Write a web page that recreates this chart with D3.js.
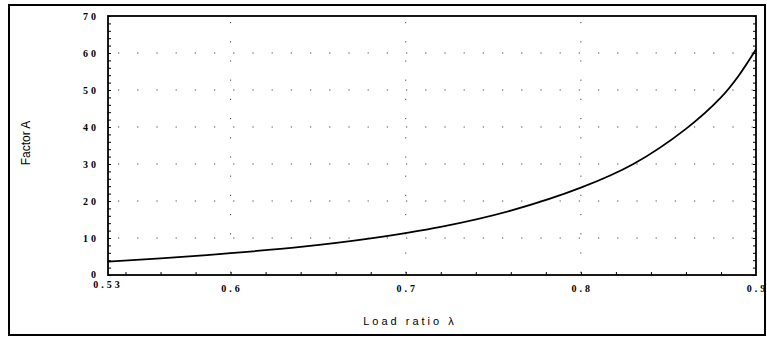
<!DOCTYPE html>
<html><head><meta charset="utf-8">
<script src="https://cdn.jsdelivr.net/npm/d3@7"></script>
<style>body{margin:0;background:#fff}svg{display:block}</style>
</head><body>
<svg id="c" width="767" height="339"></svg>
<script>
const lambda = [0.53, 0.56, 0.60, 0.64, 0.68, 0.72, 0.76, 0.80, 0.83, 0.86, 0.88, 0.89, 0.90];
const factorA = [3.6, 4.5, 5.9, 7.6, 9.9, 13.0, 17.4, 23.6, 30.0, 39.5, 48.0, 53.8, 61.0];
const xTicks = [0.53, 0.6, 0.7, 0.8, 0.9];
const xTickLabels = ["0.53", "0.6", "0.7", "0.8", "0.9"];
const yTicks = [0, 10, 20, 30, 40, 50, 60, 70];
const xGrid = [0.6, 0.7, 0.8];
const yGrid = [10, 20, 30, 40, 50, 60];
const yLabel = "Factor A";
const xLabel = "Load ratio λ";

const svg = d3.select("#c");
const L = 108, R = 756, T = 16, B = 275;
const x = d3.scaleLinear().domain([0.53, 0.9]).range([L, R]);
const y = d3.scaleLinear().domain([0, 70]).range([B, T]);

// outer frame
svg.append("rect").attr("x", 9).attr("y", 5).attr("width", 756).attr("height", 330)
  .attr("fill", "none").attr("stroke", "#000").attr("stroke-width", 2);

// dotted grid
const g = svg.append("g").attr("stroke", "#444").attr("stroke-width", 1).attr("stroke-dasharray", "1.2 18");
g.selectAll(".hg").data(yGrid).join("line")
  .attr("x1", L + 10).attr("x2", R).attr("y1", d => y(d)).attr("y2", d => y(d));
g.selectAll(".vg").data(xGrid).join("line")
  .attr("x1", d => x(d)).attr("x2", d => x(d)).attr("y1", T + 6).attr("y2", B);

// minor ticks (inward)
const yMinor = d3.range(0, 71, 2);
const xMinor = d3.range(0.54, 0.9, 0.02);
const axL = d3.axisLeft(y).tickValues(yMinor).tickSize(-3).tickFormat("");
const axR = d3.axisRight(y).tickValues(yMinor).tickSize(-3).tickFormat("");
const axB = d3.axisBottom(x).tickValues(xMinor).tickSize(-3).tickFormat("");
svg.append("g").attr("transform", `translate(${L},0)`).call(axL).call(s => s.select(".domain").remove());
svg.append("g").attr("transform", `translate(${R},0)`).call(axR).call(s => s.select(".domain").remove());
svg.append("g").attr("transform", `translate(0,${B})`).call(axB).call(s => s.select(".domain").remove());

// plot frame
svg.append("rect").attr("x", L).attr("y", T).attr("width", R - L).attr("height", B - T)
  .attr("fill", "none").attr("stroke", "#000").attr("stroke-width", 1.8);

// y tick labels
svg.append("g").selectAll("text").data(yTicks).join("text")
  .attr("x", L - 9).attr("y", d => d === 0 ? y(d) - 1 : y(d)).attr("dy", "0.35em")
  .attr("text-anchor", "end")
  .attr("font-family", "Liberation Serif").attr("font-weight", "bold").attr("font-size", 10)
  .attr("letter-spacing", 3)
  .text(d => d);

// x tick labels
svg.append("g").selectAll("text").data(xTicks).join("text")
  .attr("x", (d, i) => i === 0 ? x(d) : x(d) + 1.5).attr("y", (d, i) => i === 0 ? 288 : 292)
  .attr("text-anchor", "middle")
  .attr("font-family", "Liberation Serif").attr("font-weight", "bold").attr("font-size", 10)
  .attr("letter-spacing", 3)
  .text((d, i) => xTickLabels[i]);

// axis titles
svg.append("text").attr("transform", `translate(30,143) rotate(-90)`)
  .attr("text-anchor", "middle")
  .attr("font-family", "Liberation Sans").attr("font-size", 12)
  .text(yLabel);
svg.append("text").attr("x", 410).attr("y", 325)
  .attr("text-anchor", "middle")
  .attr("font-family", "Liberation Sans").attr("font-size", 11)
  .attr("letter-spacing", 3)
  .text(xLabel);

// curve
const line = d3.line().x((d, i) => x(lambda[i])).y(d => y(d)).curve(d3.curveCatmullRom.alpha(0.5));
svg.append("path").datum(factorA).attr("d", line)
  .attr("fill", "none").attr("stroke", "#000").attr("stroke-width", 1.8);
</script>
</body></html>
